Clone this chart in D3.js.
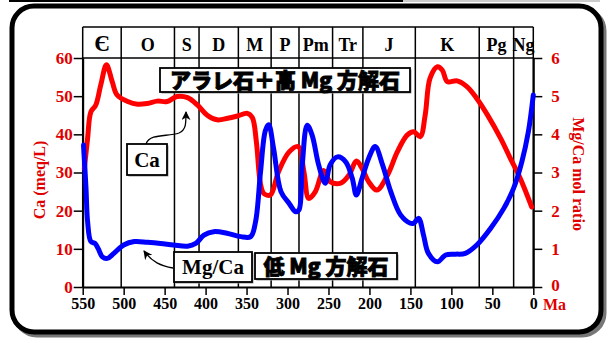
<!DOCTYPE html>
<html>
<head>
<meta charset="utf-8">
<script src="https://cdn.jsdelivr.net/npm/d3@7"></script>
<style>
  body { margin: 0; background: #fff; }
  svg { display: block; }
  .serif { font-family: "Liberation Serif", "Times New Roman", serif; font-weight: bold; }
  .jp { font-family: "Noto Sans CJK JP", sans-serif; font-weight: 900; stroke: #000; stroke-width: 0.9; }
</style>
</head>
<body>
<div id="chart"></div>
<script>
// geologic periods (Ma boundaries, old to young)
const periodBounds = [550, 503, 438, 408, 360, 320, 286, 245, 208, 144, 66, 24, 0];
const periodNames = ["Є", "O", "S", "D", "M", "P", "Pm", "Tr", "J", "K", "Pg", "Ng"];

// seawater Ca (meq/L), left axis
const caAges = [548, 544, 540, 534, 528, 521, 514, 508, 495, 483, 471, 459, 447, 435, 422, 410, 398, 386, 373, 361, 349, 343, 338, 333, 329, 321, 311, 298, 287, 280, 274, 266, 256, 248, 235, 225, 216, 209, 201, 191, 178, 166, 154, 146, 138, 132, 126, 117, 111, 105, 93, 81, 69, 56, 40, 28, 16, 2];
const caValues = [31, 39, 45.9, 47.7, 52.9, 58.2, 53.8, 50.3, 48.6, 47.9, 48.1, 48.7, 48.6, 49.9, 49.6, 47.7, 45, 43.8, 44.2, 44.8, 45.5, 44.4, 38, 27, 24.5, 24.1, 30.2, 35.4, 36.8, 30.2, 23.2, 25, 30.5, 27.6, 27.2, 29.3, 33, 31.1, 27.6, 25.4, 29.3, 35.4, 39.8, 40.7, 39.4, 45, 54.7, 57.7, 56.8, 53.8, 54, 52.5, 49.4, 45.1, 39, 33.7, 28.5, 21];

// seawater Mg/Ca mol ratio, right axis
const mgcaAges = [549, 546, 544, 540, 535, 531, 526, 520, 512, 500, 487, 471, 455, 439, 422, 412, 402, 390, 374, 357, 345, 339, 333, 327, 323, 317, 308, 298, 290, 286, 282, 276, 270, 262, 254, 248, 239, 229, 221, 216, 209, 201, 193, 184, 174, 162, 150, 146, 140, 134, 128, 117, 107, 95, 83, 69, 52, 36, 24, 14, 6, 0];
const mgcaValues = [3.72, 2.6, 1.71, 1.19, 1.14, 1.0, 0.79, 0.75, 0.88, 1.10, 1.19, 1.17, 1.14, 1.10, 1.07, 1.14, 1.36, 1.45, 1.41, 1.32, 1.32, 1.71, 3.0, 4.1, 4.25, 3.63, 2.5, 2.19, 1.97, 2.02, 3.2, 4.24, 3.98, 3.2, 2.72, 3.2, 3.41, 3.28, 2.85, 2.41, 2.85, 3.37, 3.68, 3.2, 2.5, 1.89, 1.67, 1.67, 1.8, 1.36, 0.88, 0.66, 0.84, 0.86, 0.88, 1.10, 1.54, 2.06, 2.59, 3.28, 4.07, 5.03];

const xTicks = d3.range(0, 551, 50);
const leftTicks = d3.range(0, 61, 10);
const rightTicks = d3.range(0, 7, 1);

const W = 613, H = 343;
const svg = d3.select("#chart").append("svg").attr("width", W).attr("height", H);

// frame
svg.append("line").attr("x1", 9).attr("x2", 403).attr("y1", 1).attr("y2", 1)
  .attr("stroke", "#000").attr("stroke-width", 2);
svg.append("line").attr("x1", 403).attr("x2", 600).attr("y1", 1).attr("y2", 1)
  .attr("stroke", "#999").attr("stroke-width", 1);
svg.append("rect").attr("x", 15).attr("y", 9).attr("width", 589).attr("height", 326)
  .attr("rx", 22).attr("fill", "none").attr("stroke", "#777").attr("stroke-width", 5);
svg.append("rect").attr("x", 12).attr("y", 6).attr("width", 589).attr("height", 326)
  .attr("rx", 22).attr("fill", "#fff").attr("stroke", "#000").attr("stroke-width", 5);

const x = d3.scaleLinear().domain([550, 0]).range([82.7, 533.3]);
const yL = d3.scaleLinear().domain([0, 60]).range([287, 58]);
const yR = d3.scaleLinear().domain([0, 6]).range([287, 58]);
const headTop = 27;

// header + period lines
svg.append("line").attr("x1", x(550)).attr("x2", x(0)).attr("y1", headTop).attr("y2", headTop)
  .attr("stroke", "#000").attr("stroke-width", 1.5);
svg.append("line").attr("x1", x(550)).attr("x2", x(0)).attr("y1", yL(60)).attr("y2", yL(60))
  .attr("stroke", "#000").attr("stroke-width", 1.5);
svg.selectAll(".pline").data(periodBounds).enter().append("line")
  .attr("x1", d => x(d)).attr("x2", d => x(d))
  .attr("y1", headTop).attr("y2", yL(0))
  .attr("stroke", "#000").attr("stroke-width", 1.5);
svg.selectAll(".pname").data(periodNames).enter().append("text")
  .attr("class", "serif")
  .attr("x", (d, i) => (x(periodBounds[i]) + x(periodBounds[i + 1])) / 2)
  .attr("y", 51).attr("text-anchor", "middle")
  .attr("font-size", (d, i) => i === 0 ? 23 : 18)
  .text(d => d);

// axes
function styleAxis(g, color, size) {
  g.select(".domain").attr("stroke", "#000").attr("stroke-width", 2);
  g.selectAll(".tick line").attr("stroke", "#000").attr("stroke-width", 1.5);
  g.selectAll(".tick text").attr("class", "serif").attr("fill", color).attr("font-size", size);
}

const gL = svg.append("g").attr("transform", `translate(${x(550)},0)`);
gL.call(d3.axisLeft(yL).tickValues(d3.range(0, 61, 2)).tickSize(4).tickFormat(""));
gL.call(d3.axisLeft(yL).tickValues(leftTicks).tickSize(9).tickSizeOuter(0).tickPadding(1));
styleAxis(gL, "#e00000", 17);

const gR = svg.append("g").attr("transform", `translate(${x(0)},0)`);
gR.call(d3.axisRight(yR).tickValues(d3.range(0, 6.01, 0.2)).tickSize(5).tickFormat(""));
gR.call(d3.axisRight(yR).tickValues(rightTicks).tickSize(9).tickSizeOuter(0).tickPadding(9)
  .tickFormat(d3.format("d")));
styleAxis(gR, "#e00000", 17);
gR.selectAll(".tick text").filter(d => d === 0).attr("dy", "0.2em");

const gB = svg.append("g").attr("transform", `translate(0,${yL(0)})`);
gB.call(d3.axisBottom(x).tickValues(d3.range(0, 551, 10)).tickSize(5).tickFormat(""));
gB.call(d3.axisBottom(x).tickValues(xTicks).tickSize(8).tickSizeOuter(0).tickPadding(3));
styleAxis(gB, "#000", 16);

svg.append("text").attr("class", "serif").attr("x", 543).attr("y", 310)
  .attr("fill", "#e00000").attr("font-size", 16).text("Ma");
svg.append("text").attr("class", "serif")
  .attr("transform", "translate(45,180) rotate(-90)").attr("text-anchor", "middle")
  .attr("fill", "#e00000").attr("font-size", 16).text("Ca (meq/L)");
svg.append("text").attr("class", "serif")
  .attr("transform", "translate(573,174) rotate(90)").attr("text-anchor", "middle")
  .attr("fill", "#e00000").attr("font-size", 16).text("Mg/Ca mol ratio");

// curves
const caLine = d3.line().x((d, i) => x(caAges[i])).y(d => yL(d)).curve(d3.curveCatmullRom.alpha(0.5));
const mgLine = d3.line().x((d, i) => x(mgcaAges[i])).y(d => yR(d)).curve(d3.curveCatmullRom.alpha(0.5));
svg.append("path").datum(caValues).attr("d", caLine)
  .attr("fill", "none").attr("stroke", "#ff0000").attr("stroke-width", 5)
  .attr("stroke-linejoin", "round").attr("stroke-linecap", "round");
svg.append("path").datum(mgcaValues).attr("d", mgLine)
  .attr("fill", "none").attr("stroke", "#0000ff").attr("stroke-width", 5)
  .attr("stroke-linejoin", "round").attr("stroke-linecap", "round");

// annotations
function box(x0, y0, w, h, txt, cls, size, dy) {
  svg.append("rect").attr("x", x0 + 1.5).attr("y", y0 + 1.5).attr("width", w).attr("height", h)
    .attr("fill", "#999");
  svg.append("rect").attr("x", x0).attr("y", y0).attr("width", w).attr("height", h)
    .attr("fill", "#fff").attr("stroke", "#000").attr("stroke-width", 1.8);
  svg.append("text").attr("class", cls).attr("x", x0 + w / 2).attr("y", y0 + h / 2 + dy)
    .attr("text-anchor", "middle").attr("font-size", size).text(txt);
}
box(160, 68, 250, 24, "アラレ石＋高 Mg 方解石", "jp", 21, 8);
box(255, 253, 142, 26, "低 Mg 方解石", "jp", 21, 8);
box(127, 144, 40, 31, "Ca", "serif", 21, 7);
box(174, 252, 78, 30, "Mg/Ca", "serif", 21, 7);

svg.append("defs").append("marker").attr("id", "ah")
  .attr("viewBox", "0 0 10 10").attr("refX", 9).attr("refY", 5)
  .attr("markerWidth", 9).attr("markerHeight", 9).attr("markerUnits", "userSpaceOnUse")
  .attr("orient", "auto")
  .append("path").attr("d", "M0,0 L10,5 L0,10 L3,5 Z").attr("fill", "#000");
svg.append("path").attr("d", "M146,144 C150,133 168,137 179,133 C186,130 186,124 186,112")
  .attr("fill", "none").attr("stroke", "#000").attr("stroke-width", 1.3).attr("marker-end", "url(#ah)");
svg.append("path").attr("d", "M173,268 C161,266 152,262 144,251")
  .attr("fill", "none").attr("stroke", "#000").attr("stroke-width", 1.3).attr("marker-end", "url(#ah)");
</script>
</body>
</html>
